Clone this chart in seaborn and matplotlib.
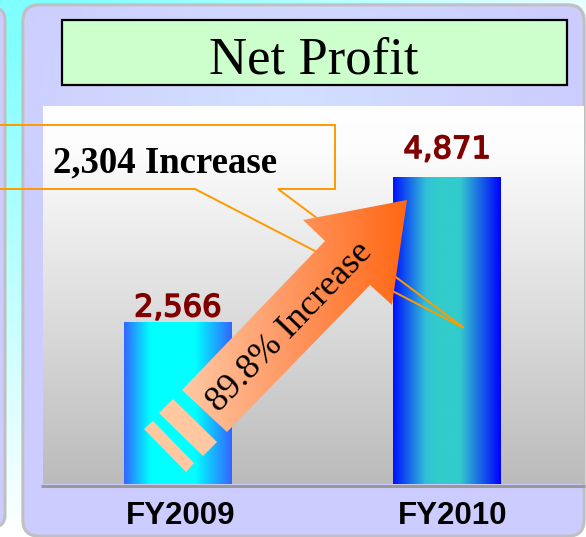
import numpy as np
import matplotlib
matplotlib.use('Agg')
import matplotlib.pyplot as plt
import seaborn as sns
from matplotlib.patches import FancyBboxPatch, Polygon, Rectangle
from matplotlib.colors import LinearSegmentedColormap, to_rgb
from matplotlib.transforms import ScaledTranslation
import matplotlib.patheffects as pe

# ---- data ----
categories = ['FY2009', 'FY2010']
values = [2566, 4871]
value_labels = ['2,566', '4,871']
title_text = 'Net Profit'
increase_text = '2,304 Increase'
pct_text = '89.8% Increase'

sns.set_theme(style='white')
plt.rcParams['font.family'] = ['DejaVu Sans']

W, H = 586, 537
fig = plt.figure(figsize=(W / 100, H / 100), dpi=100)

# ---------- background axes (pixel coordinates) ----------
bg = fig.add_axes([0, 0, 1, 1], zorder=0)
bg.set_xlim(0, W); bg.set_ylim(H, 0); bg.axis('off')


def vgrad(ax, extent, stops, zorder, clip=None, horizontal=False):
    cmap = LinearSegmentedColormap.from_list('g', stops)
    arr = np.linspace(0, 1, 256)
    arr = arr[None, :] if horizontal else arr[:, None]
    im = ax.imshow(arr, cmap=cmap, extent=extent, origin='upper', aspect='auto',
                   zorder=zorder, interpolation='bicubic')
    if clip is not None:
        im.set_clip_path(clip)
    return im

# figure background (cyan to white, strongest top-left)
yy, xx = np.mgrid[0:H:2, 0:W:2]
t = np.clip((1 - xx / 700.0) * (1 - yy / 537.0) * 1.1, 0, 1)
cy_ = np.array(to_rgb('#80FFFF')); wh = np.array([1.0, 1.0, 1.0])
bimg = wh[None, None, :] * (1 - t[..., None]) + cy_[None, None, :] * t[..., None]
bg.imshow(bimg, extent=(0, W, H, 0), origin='upper', aspect='auto', zorder=0)

# left partial panel
lp = FancyBboxPatch((-40, 8), 45, 519, boxstyle='round,pad=0,rounding_size=12',
                    fc='#CCCCFF', ec='#C0C0C0', lw=2.2, zorder=1)
bg.add_patch(lp)

# main panel
mp = FancyBboxPatch((23, 5), 561, 531, boxstyle='round,pad=0,rounding_size=16',
                    fc='#CCCCFF', ec='#C0C0C0', lw=2.4, zorder=1)
bg.add_patch(mp)
d = np.clip(np.hypot(xx - 280, (yy - 95) * 1.6) / 320, 0, 1)
c0 = np.array(to_rgb('#D3E0FF')); c1 = np.array(to_rgb('#CCCCFF'))
img = c0[None, None, :] * (1 - d[..., None]) + c1[None, None, :] * d[..., None]
im = bg.imshow(img, extent=(0, W, H, 0), origin='upper', aspect='auto', zorder=1.5)
clipp = FancyBboxPatch((24.5, 6.5), 558, 528, boxstyle='round,pad=0,rounding_size=15',
                       fc='none', ec='none', transform=bg.transData)
im.set_clip_path(clipp)

# plot area gradient
vgrad(bg, (43, 584, 484, 106), [(0, '#FFFFFF'), (0.12, '#FCFCFC'), (1, '#BBBBBB')], 2)
# baseline
bg.plot([41, 585], [485.5, 485.5], color='#999999', lw=2.2, zorder=3,
        solid_capstyle='butt')

# title box
bg.add_patch(Rectangle((62, 20), 505, 65, fc='#CCFFCC', ec='black', lw=1.6, zorder=4))
bg.text(314, 73, title_text, ha='center', va='baseline', fontsize=38,
        family='Liberation Serif', color='black', zorder=5)
bg.set_xlim(0, W); bg.set_ylim(H, 0)

# ---------- main bar axes ----------
ax = fig.add_axes([43 / W, (H - 484) / H, (584 - 43) / W, (484 - 106) / H], zorder=1)
ax.patch.set_alpha(0)
sns.barplot(x=categories, y=values, ax=ax, width=0.4, color='blue', errorbar=None)
ax.set_xlim(-0.5, 1.508)
ax.set_ylim(0, 6000)
for s in ax.spines.values():
    s.set_visible(False)
ax.set_yticks([])
ax.set_xlabel(''); ax.set_ylabel('')
ax.tick_params(axis='x', length=0, pad=12)
label_dx = [2.5, 5.0]
for lab, dx in zip(ax.get_xticklabels(), label_dx):
    lab.set_fontsize(22.5)
    lab.set_fontweight('bold')
    lab.set_family('Liberation Sans')
    lab.set_color('black')
    lab.set_transform(lab.get_transform() + ScaledTranslation(dx / 100, 0, fig.dpi_scale_trans))

bar_grads = [
    [(0, '#3366FF'), (0.24, '#00FFFF'), (0.66, '#00FFFF'), (1, '#3366FF')],
    [(0, '#0010FF'), (0.3, '#30BFD8'), (0.4, '#33CCCC'), (0.62, '#33CCCC'), (1, '#0000FF')],
]
for p, stops in zip(ax.patches, bar_grads):
    x0, y0 = p.get_x(), p.get_y()
    w, h = p.get_width(), p.get_height()
    cmap = LinearSegmentedColormap.from_list('b', stops)
    im = ax.imshow(np.linspace(0, 1, 256)[None, :], cmap=cmap,
                   extent=(x0, x0 + w, y0, y0 + h), aspect='auto', zorder=2,
                   interpolation='bicubic')
    im.set_clip_path(p)
    p.set_facecolor('none'); p.set_edgecolor('none')
ax.set_xlim(-0.5, 1.508)
ax.set_ylim(0, 6000)

label_offsets = [4.3, 13.7]
for i, (v, lab) in enumerate(zip(values, value_labels)):
    ax.annotate(lab, (i, v), xytext=(0, label_offsets[i]), textcoords='offset points',
                ha='center', va='baseline', fontsize=22, fontweight='normal',
                color='#800000', family='DejaVu Sans', zorder=5,
                path_effects=[pe.withStroke(linewidth=1.1, foreground='#800000')])

# ---------- overlay (pixel coordinates) ----------
ov = fig.add_axes([0, 0, 1, 1], zorder=2)
ov.set_xlim(0, W); ov.set_ylim(H, 0); ov.axis('off'); ov.patch.set_alpha(0)

# callout box with wedge pointer
call = [(-10, 189), (195, 189), (464, 328), (278, 189), (335, 189), (335, 125), (-10, 125)]
cx, cy = zip(*call)
ov.plot(cx, cy, color='#FF9900', lw=1.4, zorder=1, solid_joinstyle='miter')
ov.text(53, 172, increase_text, ha='left', va='baseline', fontsize=26.5,
        fontweight='bold', family='Liberation Serif', color='black', zorder=2)

# big arrow
arrow_pts = [(182, 390), (325, 241), (303, 220), (407, 200), (392, 305), (370, 285), (227, 432)]
arrow = Polygon(arrow_pts, closed=True, fc='none', ec='none', zorder=3)
ov.add_patch(arrow)
im = vgrad(ov, (180, 410, 434, 198), [(0, '#FFCAA6'), (0.45, '#FF9A66'), (1, '#FF6611')],
           3, horizontal=True)
im.set_clip_path(arrow)

# stripes at arrow tail
stripe_pts = [
    [(159, 413), (173, 399), (217, 442), (203, 456)],
    [(144, 429), (153, 421), (194, 463), (186, 472)],
]
for sp in stripe_pts:
    ov.add_patch(Polygon(sp, closed=True, fc='#FFC8A0', ec='none', zorder=3))

ov.text(290, 327, pct_text, ha='center', va='center', rotation=46, rotation_mode='anchor',
        fontsize=26, family='Liberation Serif', color='black', zorder=4)
ov.set_xlim(0, W); ov.set_ylim(H, 0)

fig.savefig('out.png', dpi=100)
